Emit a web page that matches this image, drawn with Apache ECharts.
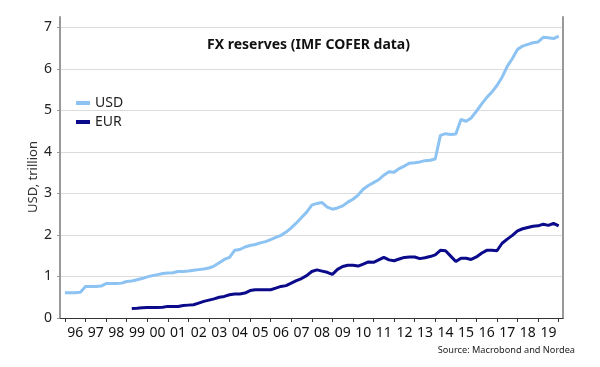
<!DOCTYPE html>
<html>
<head>
<meta charset="utf-8">
<script src="https://cdn.jsdelivr.net/npm/echarts@6/dist/echarts.min.js"></script>
<style>html,body{margin:0;padding:0;background:#fff}#c{width:600px;height:367px}</style>
</head>
<body>
<div id="c"></div>
<script>
// Quarterly, quarter-end points. USD starts 1995Q4, EUR starts 1999Q1 (USD trillion)
const usdStart = [1995, 4];
const usd = [
  0.61,
  0.61, 0.61, 0.62, 0.76,
  0.76, 0.76, 0.77, 0.83,
  0.83, 0.83, 0.84, 0.88,
  0.89, 0.92, 0.95, 0.99,
  1.02, 1.045, 1.07, 1.085,
  1.09, 1.12, 1.12, 1.13,
  1.15, 1.165, 1.18, 1.205,
  1.25, 1.33, 1.41, 1.46,
  1.63, 1.65, 1.71, 1.745,
  1.77, 1.81, 1.84, 1.89,
  1.94, 1.99, 2.07, 2.17,
  2.29, 2.42, 2.55, 2.72,
  2.76, 2.78, 2.67, 2.62,
  2.65, 2.70, 2.79, 2.86,
  2.96, 3.10, 3.19, 3.26,
  3.33, 3.44, 3.52, 3.51,
  3.60, 3.66, 3.73, 3.74,
  3.76, 3.79, 3.80, 3.83,
  4.40, 4.44, 4.42, 4.43,
  4.78, 4.74, 4.82, 4.98,
  5.15, 5.31, 5.44, 5.60,
  5.80, 6.06, 6.25, 6.47,
  6.55, 6.59, 6.63, 6.65,
  6.76, 6.75, 6.73, 6.79
];
const eurStart = [1999, 1];
const eur = [
  0.23, 0.235, 0.245, 0.25,
  0.255, 0.255, 0.26, 0.28,
  0.28, 0.275, 0.30, 0.31,
  0.32, 0.36, 0.40, 0.43,
  0.46, 0.50, 0.52, 0.56,
  0.58, 0.58, 0.60, 0.66,
  0.68, 0.68, 0.68, 0.68,
  0.72, 0.76, 0.78, 0.84,
  0.90, 0.95, 1.02, 1.12,
  1.16, 1.13, 1.10, 1.05,
  1.17, 1.24, 1.27, 1.27,
  1.25, 1.30, 1.35, 1.34,
  1.40, 1.46, 1.40, 1.38,
  1.42, 1.46, 1.47, 1.47,
  1.43, 1.45, 1.48, 1.52,
  1.63, 1.62, 1.49, 1.36,
  1.44, 1.44, 1.41, 1.47,
  1.56, 1.63, 1.63, 1.62,
  1.80, 1.90, 1.99, 2.10,
  2.15, 2.18, 2.21, 2.22,
  2.26, 2.23, 2.28, 2.22
];
const seriesNames = ['USD', 'EUR'];
const yearTicks = [1996,1997,1998,1999,2000,2001,2002,2003,2004,2005,2006,2007,2008,2009,2010,2011,2012,2013,2014,2015,2016,2017,2018,2019,2020];
const yearLabels = ['96','97','98','99','00','01','02','03','04','05','06','07','08','09','10','11','12','13','14','15','16','17','18','19'];
const yTicks = [0,1,2,3,4,5,6,7];
const titleText = 'FX reserves (IMF COFER data)';
const yName = 'USD, trillion';
const sourceText = 'Source: Macrobond and Nordea';

function toPairs(start, vals) {
  return vals.map((v, i) => {
    const qi = (start[1] - 1) + i;
    const year = start[0] + Math.floor(qi / 4);
    const q = (qi % 4) + 1;
    return [year + q / 4, v];
  });
}
const labelPos = yearLabels.map((l, i) => yearTicks[i] + 0.5);

const font = 'Noto Sans';
const chart = echarts.init(document.getElementById('c'), null, {renderer: 'canvas'});
chart.setOption({
  animation: false,
  backgroundColor: '#fff',
  textStyle: {fontFamily: font},
  grid: {left: 60, right: 37, top: 17, bottom: 49, containLabel: false},
  legend: {
    orient: 'vertical', left: 71, top: 91, itemWidth: 14, itemHeight: 4, itemGap: 5,
    icon: 'rect',
    textStyle: {fontSize: 14, color: '#222', fontFamily: font},
    data: seriesNames
  },
  graphic: [
    {type: 'text', left: 207, top: 38, style: {text: titleText, font: 'bold 14px "Noto Sans"', fill: '#111'}},
    {type: 'text', x: 33, y: 177, rotation: Math.PI / 2, style: {text: yName, font: '13px "Noto Sans"', fill: '#333', align: 'center', verticalAlign: 'middle'}},
    {type: 'text', right: 25, top: 346, style: {text: sourceText, font: '9.2px "Noto Sans"', fill: '#222'}}
  ],
  xAxis: {
    type: 'value', min: 1995.76, max: 2020.21,
    axisLine: {show: true, lineStyle: {color: '#333', width: 1}},
    axisTick: {show: true, customValues: yearTicks, length: 4, lineStyle: {color: '#333'}},
    axisLabel: {
      customValues: labelPos, margin: 8, fontSize: 14, color: '#111', fontFamily: font,
      formatter: (v) => yearLabels[Math.round(v - 0.5) - yearTicks[0]]
    },
    splitLine: {show: false}
  },
  yAxis: [{
    type: 'value', min: 0, max: 7.25,
    axisLine: {show: true, lineStyle: {color: '#999', width: 2}},
    axisTick: {show: true, customValues: yTicks, length: 3, lineStyle: {color: '#999'}},
    axisLabel: {customValues: yTicks, margin: 8, fontSize: 14, color: '#222', fontFamily: font},
    splitLine: {show: true, lineStyle: {color: '#dcdcdc', width: 1}}
  }, {
    type: 'value', min: 0, max: 7.25, position: 'right',
    axisLine: {show: true, lineStyle: {color: '#999', width: 2}},
    axisTick: {show: false}, axisLabel: {show: false}, splitLine: {show: false}
  }],
  series: [
    {name: seriesNames[0], type: 'line', data: toPairs(usdStart, usd), showSymbol: false,
     lineStyle: {color: '#8cc3f2', width: 3}, itemStyle: {color: '#8cc3f2'}, z: 3},
    {name: seriesNames[1], type: 'line', data: toPairs(eurStart, eur), showSymbol: false,
     lineStyle: {color: '#0a0a8a', width: 3}, itemStyle: {color: '#0a0a8a'}, z: 4}
  ]
});
</script>
</body>
</html>
